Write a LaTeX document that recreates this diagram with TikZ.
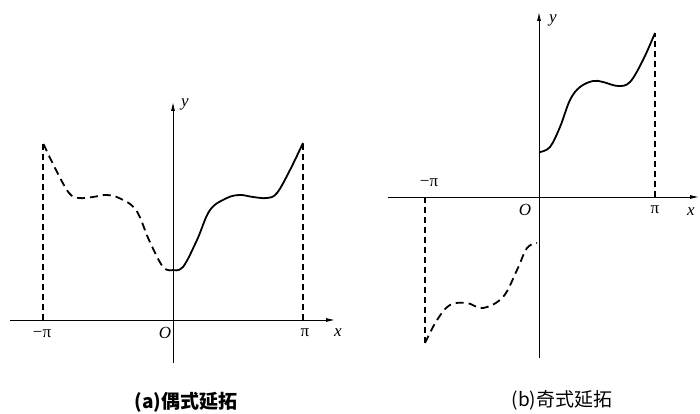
\documentclass[tikz,border=0pt]{standalone}
\usepackage{fontspec}
\setmainfont{Liberation Serif}
\newfontfamily\cjkfont{Noto Sans CJK SC}
\usepackage{tikz}
\usetikzlibrary{arrows.meta}

\begin{document}
\begin{tikzpicture}[x=1pt, y=1pt,
    axis/.style={line width=0.9pt, -{Latex[length=9pt, width=4pt]}},
    curve/.style={line width=1.8pt},
    extcurve/.style={line width=1.8pt, dash pattern=on 8pt off 5pt},
    guide/.style={line width=1.2pt, dash pattern=on 6pt off 4pt},
    lbl/.style={font=\fontsize{17}{17}\selectfont, inner sep=0pt}]
  \useasboundingbox (0,0) rectangle (700,414);

  % (a) even extension
  \begin{scope}[shift={(173,94)}]
    % Axes
    \draw[axis] (-163,0) -- (162,0);
    \draw[axis] (0,-43) -- (0,218);
    % Curve on [0,pi] and its mirror image
    \draw[curve] plot[smooth, tension=0.6] coordinates {(0,50) (10,53) (24,80) (37,110) (54,122) (67,125) (80,123) (94,122) (104,127) (117,150) (130,177)};
    \draw[extcurve, xscale=-1] plot[smooth, tension=0.6] coordinates {(0,50) (10,53) (24,80) (37,110) (54,122) (67,125) (80,123) (94,122) (104,127) (117,150) (130,177)};
    % Guides
    \draw[guide] (-130,0) -- (-130,177);
    \draw[guide] (130,0) -- (130,177);
    % Labels
    \node[lbl] (aminuspi) at (-131,-14) {−π};
    \node[lbl] (aorigin) at (-8,-13) {\textit{O}};
    \node[lbl] (api) at (132,-13) {π};
    \node[lbl] (ax) at (165,-13) {\textit{x}};
    \node[lbl] (ay) at (12,216) {\textit{y}};
  \end{scope}

  % (b) odd extension
  \begin{scope}[shift={(539,217)}]
    % Axes
    \draw[axis] (-151,0) -- (160,0);
    \draw[axis] (0,-161) -- (0,185);
    % Curve on [0,pi]
    \draw[curve] plot[smooth, tension=0.6] coordinates {(1,45) (11,50) (21,70) (31,97) (41,110) (54,116) (64,115) (79,111) (91,115) (104,137) (116,164)};
    % Extension on [-pi,0]
    \draw[extcurve] plot[smooth, tension=0.6] coordinates {(-114,-146) (-102,-123) (-89,-108) (-72,-106) (-56,-111) (-36,-100) (-22,-73) (-12,-51) (-2,-46)};
    % Guides
    \draw[guide] (-114,0) -- (-114,-146);
    \draw[guide] (116,0) -- (116,164);
    % Labels
    \node[lbl] (bminuspi) at (-110,14) {−π};
    \node[lbl] (borigin) at (-14,-13) {\textit{O}};
    \node[lbl] (bpi) at (116,-13) {π};
    \node[lbl] (bx) at (152,-15) {\textit{x}};
    \node[lbl] (by) at (14,177) {\textit{y}};
  \end{scope}

  % Captions
  \node[font=\fontsize{19}{19}\selectfont\bfseries\cjkfont, inner sep=0pt] (capa) at (186,12) {(a)偶式延拓};
  \node[font=\fontsize{19}{19}\selectfont\cjkfont, inner sep=0pt] (capb) at (562,14) {(b)奇式延拓};
\end{tikzpicture}
\end{document}
